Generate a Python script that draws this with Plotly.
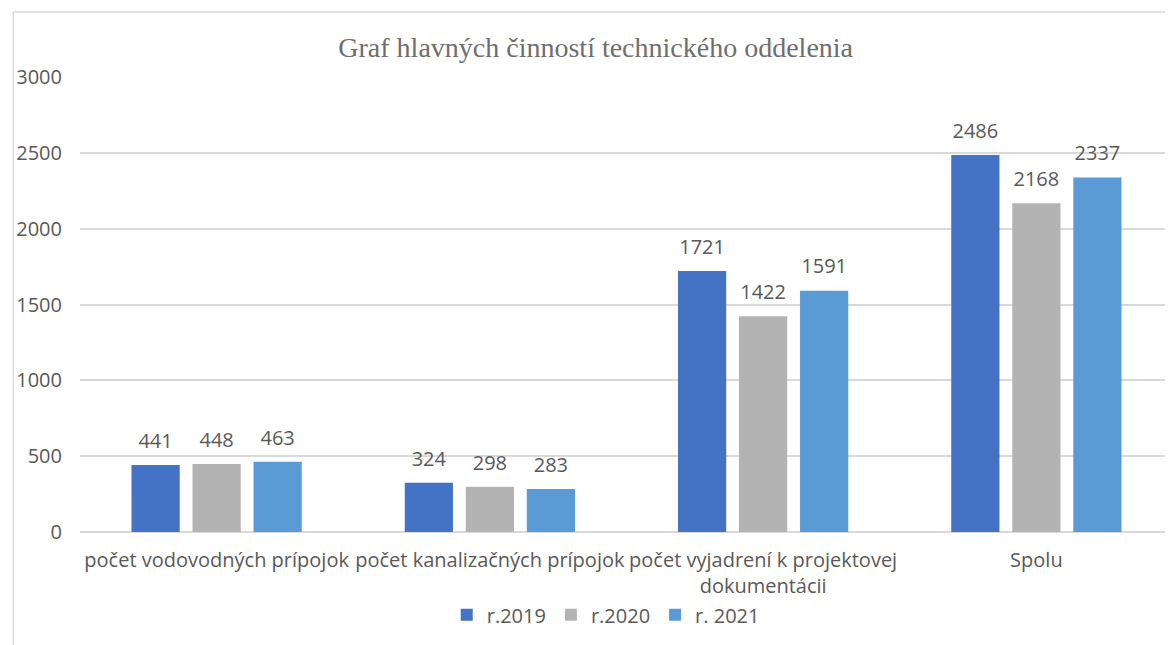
import plotly.graph_objects as go


# ---------------- Data ----------------
categories = [
    "počet vodovodných prípojok",
    "počet kanalizačných prípojok",
    "počet vyjadrení k projektovej<br>dokumentácii",
    "Spolu",
]
series_names = ["r.2019", "r.2020", "r. 2021"]
values_2019 = [441, 324, 1721, 2486]
values_2020 = [448, 298, 1422, 2168]
values_2021 = [463, 283, 1591, 2337]
y_ticks = [0, 500, 1000, 1500, 2000, 2500, 3000]

colors = ["#4472C4", "#B3B3B3", "#5B9BD5"]
text_color = "#595959"
grid_color = "#D9D9D9"
font_main = "Open Sans"


# ---------------- Chart ----------------
fig = go.Figure()

all_values = [values_2019, values_2020, values_2021]

for i, (name, vals, col) in enumerate(zip(series_names, all_values, colors)):
    fig.add_trace(go.Bar(
        name=name,
        x=categories,
        y=vals,
        offsetgroup=str(i),
        marker=dict(color=col, line=dict(width=0)),
    ))

# data labels (invisible markers keep the labels lifted above the bars)
for i, vals in enumerate(all_values):
    fig.add_trace(go.Scatter(
        x=categories,
        y=vals,
        offsetgroup=str(i),
        mode="markers+text",
        marker=dict(size=18, opacity=0),
        text=[str(v) for v in vals],
        textposition="top center",
        textfont=dict(family=font_main, size=20, color=text_color),
        showlegend=False,
        hoverinfo="skip",
        cliponaxis=False,
    ))

fig.update_layout(
    width=1173,
    height=645,
    barmode="group",
    scattermode="group",
    bargap=0.33,
    bargroupgap=0.21,
    scattergap=0.33,
    plot_bgcolor="white",
    paper_bgcolor="white",
    font=dict(family=font_main, size=20, color=text_color),
    title=dict(
        text="Graf hlavných činností technického oddelenia",
        x=0.501,
        xanchor="center",
        y=0.9395,
        yanchor="middle",
        font=dict(family="Liberation Serif", size=28, color="#6E6E6E"),
    ),
    margin=dict(l=67, r=8, t=69, b=121),
    showlegend=True,
    legend=dict(
        orientation="h",
        x=0.481,
        xanchor="center",
        y=-0.139,
        yanchor="top",
        font=dict(family=font_main, size=20, color=text_color),
        itemwidth=30,
        traceorder="normal",
    ),
)

fig.update_yaxes(
    range=[0, 3000],
    tickvals=y_ticks,
    showgrid=True,
    gridcolor=grid_color,
    gridwidth=1.5,
    zeroline=True,
    zerolinecolor=grid_color,
    zerolinewidth=1.5,
    showline=False,
    ticks="",
    ticklabelstandoff=17,
    tickfont=dict(family=font_main, size=20, color=text_color),
)

fig.update_xaxes(
    showline=False,
    ticks="",
    ticklabelstandoff=14,
    tickfont=dict(family=font_main, size=20, color=text_color),
    tickangle=0,
)

# chart area border (top and left edges visible in frame)
fig.add_shape(type="line", xref="paper", yref="paper",
              x0=-0.061, x1=1.01, y0=1.143, y1=1.143,
              line=dict(color=grid_color, width=1.5))
fig.add_shape(type="line", xref="paper", yref="paper",
              x0=-0.061, x1=-0.061, y0=1.143, y1=-0.3,
              line=dict(color=grid_color, width=1.5))

fig.write_html("out.html")
